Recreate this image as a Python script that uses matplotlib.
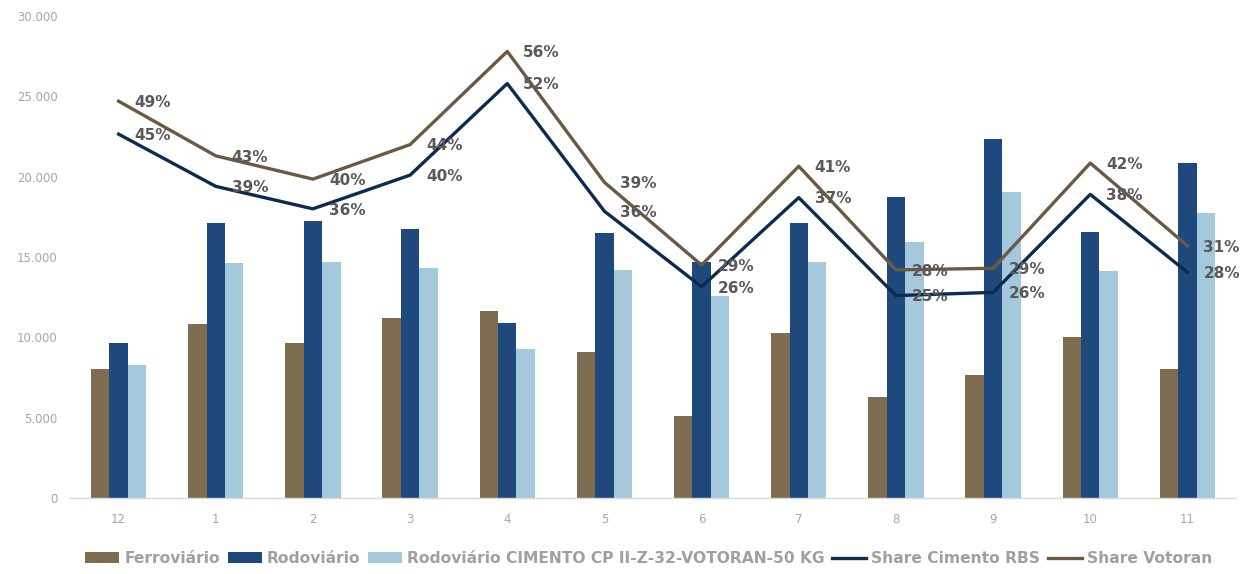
import matplotlib
matplotlib.use("Agg")
import matplotlib.pyplot as plt
from matplotlib.ticker import FuncFormatter
import numpy as np

months = ["12", "1", "2", "3", "4", "5", "6", "7", "8", "9", "10", "11"]
ferroviario = [8030, 10830, 9630, 11210, 11640, 9110, 5090, 10260, 6270, 7640, 10040, 8050]
rodoviario = [9650, 17140, 17250, 16730, 10900, 16500, 14710, 17140, 18720, 22330, 16580, 20840]
rodoviario_cp = [8280, 14610, 14710, 14300, 9300, 14180, 12580, 14700, 15960, 19050, 14150, 17760]
share_rbs = [0.453, 0.388, 0.360, 0.402, 0.516, 0.357, 0.263, 0.374, 0.252, 0.256, 0.378, 0.281]
share_votoran = [0.494, 0.426, 0.397, 0.440, 0.556, 0.393, 0.290, 0.413, 0.284, 0.286, 0.417, 0.314]

c_ferro = "#7F6D52"
c_rodo = "#1F497D"
c_light = "#A5C9DC"
c_rbs = "#0E2B4F"
c_vot = "#6A5A44"
c_tick = "#A6A6A6"
c_label = "#595959"

plt.rcParams["font.family"] = ["DejaVu Sans"]

fig = plt.figure(figsize=(12.57, 5.74), dpi=100)
ax = fig.add_axes([0.0557, 0.1324, 0.9276, 0.8396])

x = np.arange(len(months))
w = 0.19
ax.bar(x - w, ferroviario, w, color=c_ferro, label="Ferroviário")
ax.bar(x, rodoviario, w, color=c_rodo, label="Rodoviário")
ax.bar(x + w, rodoviario_cp, w, color=c_light, label="Rodoviário CIMENTO CP II-Z-32-VOTORAN-50 KG")

ax.set_xlim(-0.5, len(months) - 0.5)
ax.set_ylim(0, 30000)
ax.set_yticks(range(0, 30001, 5000))
ax.yaxis.set_major_formatter(FuncFormatter(lambda v, p: f"{int(v):,}".replace(",", ".")))
ax.set_xticks(x)
ax.set_xticklabels(months)
ax.tick_params(axis="both", length=0, colors=c_tick, labelsize=8.5)
ax.tick_params(axis="y", pad=9)
ax.tick_params(axis="x", pad=11)
for s in ["top", "right", "left"]:
    ax.spines[s].set_visible(False)
ax.spines["bottom"].set_color("#D9D9D9")
ax.spines["bottom"].set_linewidth(1.0)

ax2 = ax.twinx()
ax2.set_ylim(0, 0.6)
ax2.set_yticks([])
for s in ax2.spines.values():
    s.set_visible(False)
ax2.plot(x, share_rbs, color=c_rbs, lw=2.4, label="Share Cimento RBS")
ax2.plot(x, share_votoran, color=c_vot, lw=2.4, label="Share Votoran")

for series in (share_rbs, share_votoran):
    for xi, v in zip(x, series):
        ax2.annotate(f"{v:.0%}", (xi, v), xytext=(11.5, -1), textcoords="offset points",
                     ha="left", va="center", fontsize=11, fontweight="bold", color=c_label)

h1, l1 = ax.get_legend_handles_labels()
h2, l2 = ax2.get_legend_handles_labels()
leg = fig.legend(h1 + h2, l1 + l2, loc="center", bbox_to_anchor=(0.516, 0.027), ncol=5,
                 frameon=False, handlelength=2.2, handleheight=0.7, handletextpad=0.3,
                 columnspacing=0.5, prop={"size": 11.2, "weight": "bold"})
for t in leg.get_texts():
    t.set_color("#A0A0A0")

fig.savefig("out.png", dpi=100)
